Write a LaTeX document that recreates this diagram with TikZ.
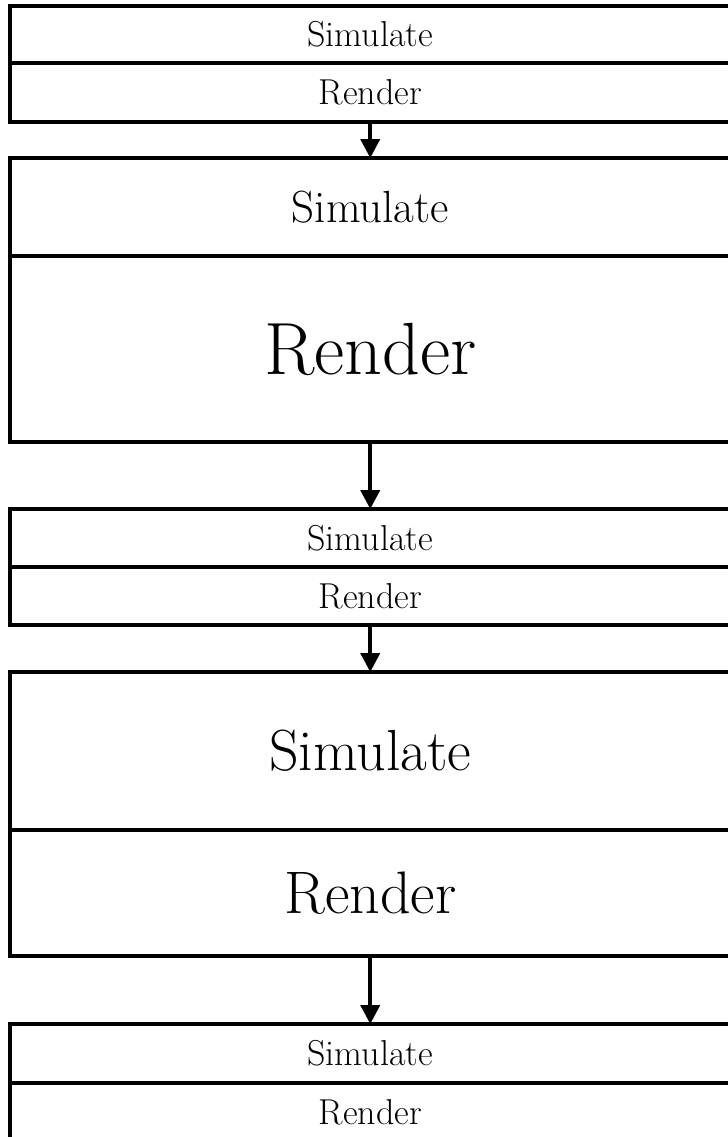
\documentclass[tikz,border=0pt]{standalone}
\usepackage{fontspec}
\usetikzlibrary{positioning,arrows.meta}

\begin{document}
\begin{tikzpicture}[x=0.5pt,y=-0.5pt,
    cell/.style={draw,line width=2pt,inner sep=0pt,outer sep=0pt,minimum width=360.75pt},
    small/.style={font=\fontsize{18}{22}\selectfont},
    flow/.style={line width=2pt,-{Triangle[width=9.5pt,length=9.5pt]}}]
      \useasboundingbox (0,0) rectangle (728,1137);
      \clip (0,0) rectangle (728,1137);
      %% first frame
      \node[cell,small,minimum height=28.5pt] (sim1) at (370.25,34.5) {Simulate};
      \node[cell,small,minimum height=29.5pt] (ren1) at (370.25,92.5) {Render};
      %% slow render frame
      \node[cell,minimum height=49pt,font=\fontsize{22.5}{27}\selectfont] (sim2) at (370.25,207) {Simulate};
      \node[cell,minimum height=93pt,font=\fontsize{37}{44}\selectfont] (ren2) at (370.25,349) {Render};
      %% third frame
      \node[cell,small,minimum height=29pt] (sim3) at (370.25,538) {Simulate};
      \node[cell,small,minimum height=29pt] (ren3) at (370.25,596) {Render};
      %% slow simulate frame
      \node[cell,minimum height=79pt,font=\fontsize{29}{35}\selectfont] (sim4) at (370.25,751) {Simulate};
      \node[cell,minimum height=63pt,font=\fontsize{30}{36}\selectfont] (ren4) at (370.25,893) {Render};
      %% last frame
      \node[cell,small,minimum height=29.5pt] (sim5) at (370.25,1053.5) {Simulate};
      \node[cell,small,minimum height=29.5pt] (ren5) at (370.25,1112.5) {Render};
      %% arrows
      \draw[flow] (ren1.south) -- (sim2.north);
      \draw[flow] (ren2.south) -- (sim3.north);
      \draw[flow] (ren3.south) -- (sim4.north);
      \draw[flow] (ren4.south) -- (sim5.north);
  \end{tikzpicture}
\end{document}
